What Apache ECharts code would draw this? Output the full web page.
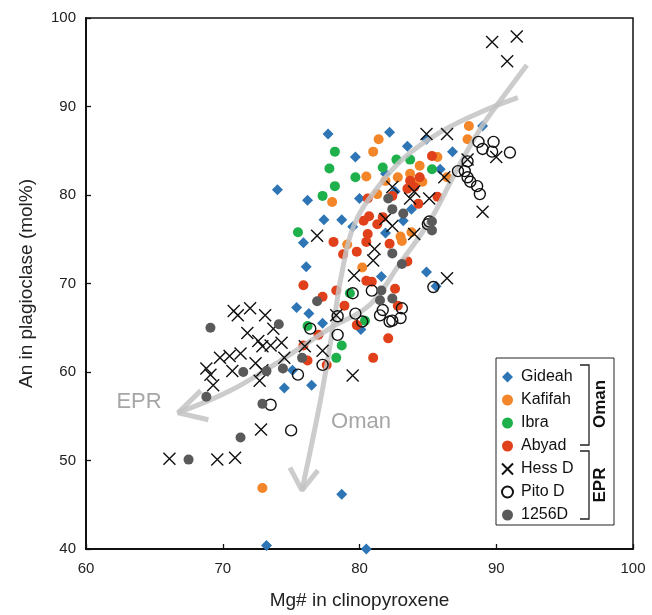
<!DOCTYPE html>
<html><head><meta charset="utf-8">
<script src="https://cdn.jsdelivr.net/npm/echarts@6/dist/echarts.min.js"></script>
<style>html,body{margin:0;padding:0;background:#fff}#c{width:652px;height:615px}</style>
</head><body><div id="c"></div>
<script>
const xTicks = [60, 70, 80, 90, 100];
const yTicks = [40, 50, 60, 70, 80, 90, 100];
const seriesNames = ['Gideah', 'Kafifah', 'Ibra', 'Abyad', 'Hess D', 'Pito D', '1256D'];

const gideah = [[74.0,80.6],[77.7,86.9],[79.7,84.3],[82.2,87.1],[83.5,85.5],[84.9,86.3],[86.8,84.9],[89.0,87.8],[85.9,82.9],[76.2,79.4],[80.0,79.6],[82.6,80.4],[77.4,77.2],[78.7,77.2],[79.5,76.4],[75.9,74.6],[76.1,71.9],[81.9,75.7],[83.8,78.4],[81.6,70.8],[84.9,71.3],[85.6,69.7],[75.4,67.3],[76.3,66.6],[77.3,65.5],[80.1,64.8],[75.1,60.2],[76.5,58.5],[74.5,58.2],[78.7,46.2],[73.2,40.4],[80.5,40.0],[83.2,77.1],[81.9,82.4]];
const kafifah = [[72.9,46.9],[78.0,79.2],[80.5,82.1],[81.4,86.3],[81.0,84.9],[81.3,80.1],[82.8,82.0],[83.7,82.4],[84.4,83.3],[84.3,81.6],[83.0,75.3],[88.0,87.8],[87.9,86.3],[85.7,84.3],[86.4,82.0],[84.6,81.5],[79.1,74.4],[80.2,71.8],[83.1,74.8],[83.8,75.8],[81.9,81.6]];
const ibra = [[78.2,84.9],[77.8,83.0],[78.2,81.0],[77.3,79.9],[79.7,82.0],[81.7,83.1],[82.7,84.0],[83.7,84.0],[85.3,82.9],[75.5,75.8],[79.3,68.9],[76.2,65.2],[78.7,63.0],[78.3,61.6],[80.4,65.8]];
const abyad = [[85.3,84.4],[83.7,81.6],[84.4,82.0],[83.5,80.7],[84.3,79.0],[80.6,79.6],[80.7,77.6],[80.3,77.1],[80.6,75.6],[82.4,79.9],[84.0,80.9],[85.7,79.8],[81.3,76.7],[81.7,77.5],[78.1,74.7],[78.8,73.3],[79.8,73.6],[80.5,74.7],[80.5,70.3],[75.9,69.8],[78.3,69.2],[77.3,68.5],[78.9,67.5],[79.8,65.3],[77.0,64.2],[75.9,63.0],[82.1,63.8],[82.6,69.4],[82.8,67.5],[83.5,72.5],[80.9,70.2],[81.0,61.6],[77.6,60.8],[76.2,61.3],[82.2,74.5]];
const hessD = [[89.7,97.3],[91.5,97.9],[90.8,95.1],[84.9,86.9],[86.4,86.9],[90.0,84.3],[87.9,84.0],[86.2,82.0],[82.4,80.9],[84.0,80.4],[85.1,79.6],[83.7,79.6],[81.9,77.3],[82.4,76.5],[84.0,75.6],[89.0,78.1],[76.9,75.4],[79.6,70.9],[78.3,66.4],[71.1,66.4],[72.0,67.2],[73.1,66.4],[71.8,64.4],[72.6,63.5],[72.9,62.9],[73.5,63.0],[74.3,63.3],[73.7,64.9],[71.3,62.1],[70.8,66.9],[68.8,60.4],[70.5,61.8],[69.3,58.5],[70.7,60.1],[72.7,59.0],[79.5,59.6],[72.8,53.5],[70.9,50.3],[66.1,50.2],[69.6,50.1],[86.4,70.6],[81.1,73.9],[81.0,72.6],[76.0,62.9],[77.3,62.4],[72.4,61.0],[69.1,59.7],[69.8,61.6],[72.9,60.2],[74.5,61.6]];
const pitoD = [[88.7,86.0],[89.0,85.2],[89.8,86.0],[89.7,84.9],[91.0,84.8],[87.9,83.8],[87.2,82.7],[87.7,82.7],[87.9,82.0],[88.1,81.5],[88.6,81.0],[88.8,80.1],[85.1,77.0],[85.4,69.6],[81.7,67.0],[81.5,66.4],[82.2,65.7],[83.0,66.1],[83.1,67.2],[76.4,64.9],[78.4,66.3],[79.7,66.6],[80.2,65.7],[79.5,68.9],[80.9,69.2],[82.4,65.8],[78.4,64.2],[77.3,60.8],[75.5,59.7],[75.0,53.4],[73.5,56.3],[85.0,76.7]];
const d1256 = [[82.1,79.6],[82.4,78.4],[83.2,77.9],[85.3,77.0],[85.3,76.0],[82.4,73.4],[83.1,72.2],[81.6,69.2],[81.5,68.1],[82.4,68.3],[76.9,68.0],[74.1,65.4],[75.8,61.6],[74.4,60.4],[71.5,60.0],[73.2,60.1],[72.9,56.4],[71.3,52.6],[69.1,65.0],[68.8,57.2],[67.5,50.1]];

const eprTrend = [[92.24,94.7],[90.63,91.35],[88.8,87.4],[86.97,82.4],[85.15,77.1],[82.95,72.25],[80.76,67.6],[77.84,64.94],[74.18,61.24],[70.53,57.87],[66.73,55.4]];
const eprHead = [[68.4,57.9],[66.73,55.4],[68.95,54.6]];
const omanTrend = [[91.58,91.0],[88.8,89.33],[85.88,87.08],[83.32,84.27],[81.35,80.9],[79.6,76.6],[78.7,71.1],[78.05,64.94],[77.18,57.08],[75.79,46.63]];
const omanHead = [[74.91,49.2],[75.79,46.63],[76.96,48.88]];

const FONT = 'Liberation Sans, Arial, sans-serif';
const trendStyle = {color:'rgba(195,195,195,0.85)', width:5};
function trend(data, smooth){
  return {type:'line', data:data, smooth:smooth, symbol:'none', silent:true,
    lineStyle:trendStyle, z:5, legendHoverLink:false};
}
const chart = echarts.init(document.getElementById('c'));
chart.setOption({
  animation:false,
  textStyle:{fontFamily:FONT},
  grid:{left:86, right:19, top:18, bottom:63, show:true, borderColor:'#111', borderWidth:1.5, backgroundColor:'transparent'},
  xAxis:{type:'value', min:xTicks[0], max:xTicks[xTicks.length-1], interval:10,
    name:'Mg# in clinopyroxene', nameLocation:'middle', nameGap:42,
    nameTextStyle:{fontSize:19, color:'#222', fontFamily:FONT},
    axisLine:{lineStyle:{color:'#111', width:2}},
    axisTick:{inside:true, length:5, lineStyle:{color:'#111', width:1.3}},
    axisLabel:{fontSize:15, color:'#222', margin:12, fontFamily:FONT},
    splitLine:{show:false}},
  yAxis:{type:'value', min:yTicks[0], max:yTicks[yTicks.length-1], interval:10,
    name:'An in plagioclase (mol%)', nameLocation:'middle', nameGap:50,
    nameTextStyle:{fontSize:19, color:'#222', fontFamily:FONT},
    axisLine:{lineStyle:{color:'#111', width:2}},
    axisTick:{inside:true, length:5, lineStyle:{color:'#111', width:1.3}},
    axisLabel:{fontSize:15, color:'#222', margin:10, fontFamily:FONT},
    splitLine:{show:false}},
  legend:{orient:'vertical', left:496, top:364, itemWidth:11, itemHeight:11, itemGap:7,
    data:seriesNames, textStyle:{fontSize:16, color:'#111', fontFamily:FONT, padding:[0,0,0,3]}, selectedMode:false},
  series:[
    {name:'Gideah', type:'scatter', data:gideah, symbol:'diamond', symbolSize:11, itemStyle:{color:'#2E75B6', opacity:1}, z:3},
    {name:'Kafifah', type:'scatter', data:kafifah, symbol:'circle', symbolSize:10, itemStyle:{color:'#F4862A', opacity:1}, z:3},
    {name:'Ibra', type:'scatter', data:ibra, symbol:'circle', symbolSize:10, itemStyle:{color:'#1DB04B', opacity:1}, z:3},
    {name:'Abyad', type:'scatter', data:abyad, symbol:'circle', symbolSize:10, itemStyle:{color:'#E0401A', opacity:1}, z:3},
    trend(eprTrend, 0.4), trend(eprHead, false), trend(omanTrend, 0.4), trend(omanHead, false),
    {name:'Hess D', type:'scatter', data:hessD, symbol:'path://M0,0L10,10M10,0L0,10', symbolSize:12,
      itemStyle:{color:'rgba(0,0,0,0)', borderColor:'#111', borderWidth:1.4, opacity:1}, z:6},
    {name:'Pito D', type:'scatter', data:pitoD, symbol:'circle', symbolSize:11,
      itemStyle:{color:'rgba(255,255,255,0)', borderColor:'#111', borderWidth:1.4, opacity:1}, z:6},
    {name:'1256D', type:'scatter', data:d1256, symbol:'circle', symbolSize:10, itemStyle:{color:'#5A5A5A', opacity:1}, z:6}
  ],
  graphic:[
    {type:'rect', shape:{x:496, y:358, width:118, height:167}, style:{fill:'none', stroke:'#222', lineWidth:1}, z:1},
    {type:'polyline', shape:{points:[[580,365],[589,365],[589,445],[580,445]]}, style:{fill:'none', stroke:'#222', lineWidth:1.3}, z:10},
    {type:'polyline', shape:{points:[[580,451],[589,451],[589,519],[580,519]]}, style:{fill:'none', stroke:'#222', lineWidth:1.3}, z:10},
    {type:'text', x:600, y:404, rotation:Math.PI/2, style:{text:'Oman', fill:'#111', font:'bold 17px Liberation Sans, Arial', textAlign:'center', textVerticalAlign:'middle'}, z:10},
    {type:'text', x:600, y:485, rotation:Math.PI/2, style:{text:'EPR', fill:'#111', font:'bold 17px Liberation Sans, Arial', textAlign:'center', textVerticalAlign:'middle'}, z:10},
    {type:'text', x:139, y:402, style:{text:'EPR', font:'22px Liberation Sans, Arial', fill:'#A6A6A6', textAlign:'center', textVerticalAlign:'middle'}, z:10},
    {type:'text', x:361, y:422, style:{text:'Oman', font:'22px Liberation Sans, Arial', fill:'#A6A6A6', textAlign:'center', textVerticalAlign:'middle'}, z:10}
  ]
});
</script></body></html>
